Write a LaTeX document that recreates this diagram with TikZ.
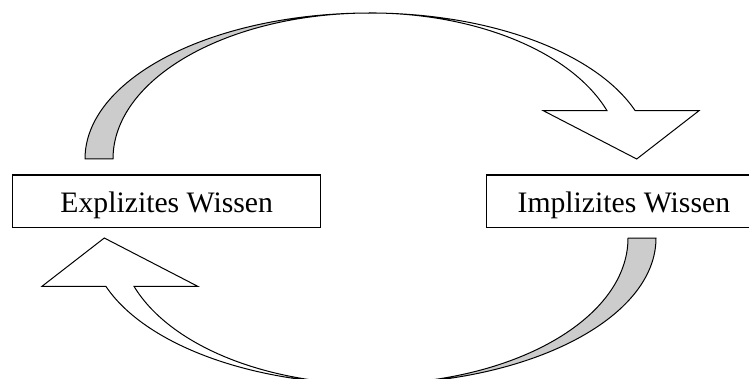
\documentclass[tikz,border=0pt]{standalone}
\usepackage{fontspec}
\setmainfont{Liberation Serif}
\begin{document}
\begin{tikzpicture}[x=1pt,y=1pt,
  band/.style={draw=black, line width=1pt, fill=black!20, line join=round},
  face/.style={draw=black, line width=1pt, fill=white, line join=miter},
  wbox/.style={draw=black, line width=1pt, fill=white, inner sep=0pt,
    minimum height=52pt, text height=22pt, text depth=0pt,
    font=\fontsize{29.7}{34}\selectfont}]
\useasboundingbox (0,0) rectangle (749,378);
\clip (0,0) rectangle (749,378);
% top curved arrow
\begin{scope}
  \path[band] (85,219) arc[start angle=180,end angle=90,x radius=285,y radius=146]
    arc[start angle=90,end angle=180,x radius=257,y radius=146] -- cycle;
  \path[face] (370,365) arc[start angle=90,end angle=19.3,x radius=281,y radius=146]
    -- (699,267.3) -- (636.7,219) -- (543.3,267.3) -- (607,267.3)
    arc[start angle=19.3,end angle=90,x radius=251,y radius=146] -- cycle;
\end{scope}
% bottom curved arrow (rotated copy)
\begin{scope}[rotate around={180:(370.5,179.5)}]
  \path[band] (85,219) arc[start angle=180,end angle=90,x radius=285,y radius=146]
    arc[start angle=90,end angle=180,x radius=257,y radius=146] -- cycle;
  \path[face] (370,365) arc[start angle=90,end angle=19.3,x radius=281,y radius=146]
    -- (699,267.3) -- (636.7,219) -- (543.3,267.3) -- (607,267.3)
    arc[start angle=19.3,end angle=90,x radius=251,y radius=146] -- cycle;
\end{scope}
% boxes
\node[wbox, minimum width=308pt] (explizit) at (166.7,177) {Explizites Wissen};
\node[wbox, minimum width=274.3pt] (implizit) at (623.85,177) {Implizites Wissen};
\end{tikzpicture}
\end{document}
